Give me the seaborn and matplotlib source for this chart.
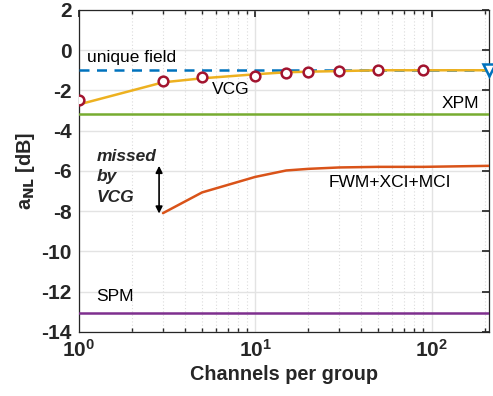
import matplotlib
matplotlib.use("Agg")
import matplotlib.pyplot as plt
import seaborn as sns
import numpy as np
import pandas as pd

# Channels per group and nonlinear coefficient values
x_vcg = [1, 3, 5, 10, 15, 20, 30, 50, 90, 212]
y_vcg = [-2.7, -1.6, -1.4, -1.2, -1.1, -1.07, -1.04, -1.0, -1.0, -1.0]

x_sim = [1, 3, 5, 10, 15, 20, 30, 50, 90]
y_sim = [-2.5, -1.55, -1.33, -1.27, -1.15, -1.1, -1.04, -1.0, -0.99]

x_fwm = [3, 5, 10, 15, 20, 30, 50, 90, 212]
y_fwm = [-8.1, -7.07, -6.3, -5.98, -5.9, -5.83, -5.8, -5.8, -5.75]

x_span = [1, 212]
y_unique = [-0.98, -0.98]
y_xpm = [-3.18, -3.18]
y_spm = [-13.05, -13.05]

sns.set_theme(style="white")
plt.rcParams["font.family"] = ["Liberation Sans", "DejaVu Sans"]
plt.rcParams["axes.unicode_minus"] = False

fig = plt.figure(figsize=(4.93, 3.96), dpi=100)
ax = fig.add_axes([0.160, 0.162, 0.832, 0.813])

sns.lineplot(x=x_span, y=y_unique, ax=ax, color="#0072BD", lw=1.8,
             linestyle=(0, (4, 3)), zorder=3)
sns.lineplot(x=x_span, y=y_xpm, ax=ax, color="#77AC30", lw=1.8, zorder=3)
sns.lineplot(x=x_span, y=y_spm, ax=ax, color="#7E2F8E", lw=1.8, zorder=3)
sns.lineplot(x=x_vcg, y=y_vcg, ax=ax, color="#EDB120", lw=1.8, zorder=4)
sns.lineplot(x=x_fwm, y=y_fwm, ax=ax, color="#D95319", lw=1.8, zorder=4)
ax.plot(x_sim, y_sim, linestyle="none", marker="o", ms=7, mfc="white",
        mec="#A2142F", mew=1.8, zorder=5)
ax.plot([x_span[-1]], [y_unique[-1]], linestyle="none", marker="v", ms=9,
        mfc="white", mec="#0072BD", mew=1.8, zorder=6, clip_on=False)

ax.set_xscale("log")
ax.set_xlim(1, 212)
ax.set_ylim(-14, 2)
ax.set_yticks(np.arange(-14, 3, 2))

ax.grid(True, which="major", color="#e3e3e3", lw=1.0)
ax.grid(True, which="minor", axis="x", color="#dcdcdc", lw=0.8, linestyle=(0, (1, 2)))
ax.set_axisbelow(True)

for s in ax.spines.values():
    s.set_color("#262626")
    s.set_linewidth(0.9)
ax.tick_params(which="both", direction="in", top=True, right=True,
               colors="#262626", labelsize=15)
ax.tick_params(which="major", length=5)
ax.tick_params(which="minor", length=3, bottom=True, top=True)
for lab in ax.get_xticklabels() + ax.get_yticklabels():
    lab.set_fontweight("bold")
ax.tick_params(axis="x", pad=5)
ax.tick_params(axis="y", pad=5)

ax.set_xlabel("Channels per group", fontsize=14.3, fontweight="bold",
              color="#262626", labelpad=3)
ax.set_ylabel(r"a$_\mathbf{NL}$ [dB]", fontsize=14.3, fontweight="bold",
              color="#262626", labelpad=3)

tkw = dict(fontsize=12.5, color="black")
ax.text(1.11, -0.35, "unique field", va="center", ha="left", **tkw)
ax.text(7.3, -1.95, "VCG", va="center", ha="center", **tkw)
ax.text(146, -2.65, "XPM", va="center", ha="center", **tkw)
ax.text(58, -6.6, "FWM+XCI+MCI", va="center", ha="center", **tkw)
ax.text(1.6, -12.25, "SPM", va="center", ha="center", **tkw)
ax.text(1.266, -6.3, "missed\nby\nVCG", va="center", ha="left", fontsize=12.5,
        fontweight="bold", fontstyle="italic", color="#262626", linespacing=1.45)
ax.annotate("", xy=(2.85, -8.12), xytext=(2.85, -5.75),
            arrowprops=dict(arrowstyle="<|-|>", color="black", lw=1.2,
                            mutation_scale=10, shrinkA=0, shrinkB=0))

fig.savefig("out.png", dpi=100)
